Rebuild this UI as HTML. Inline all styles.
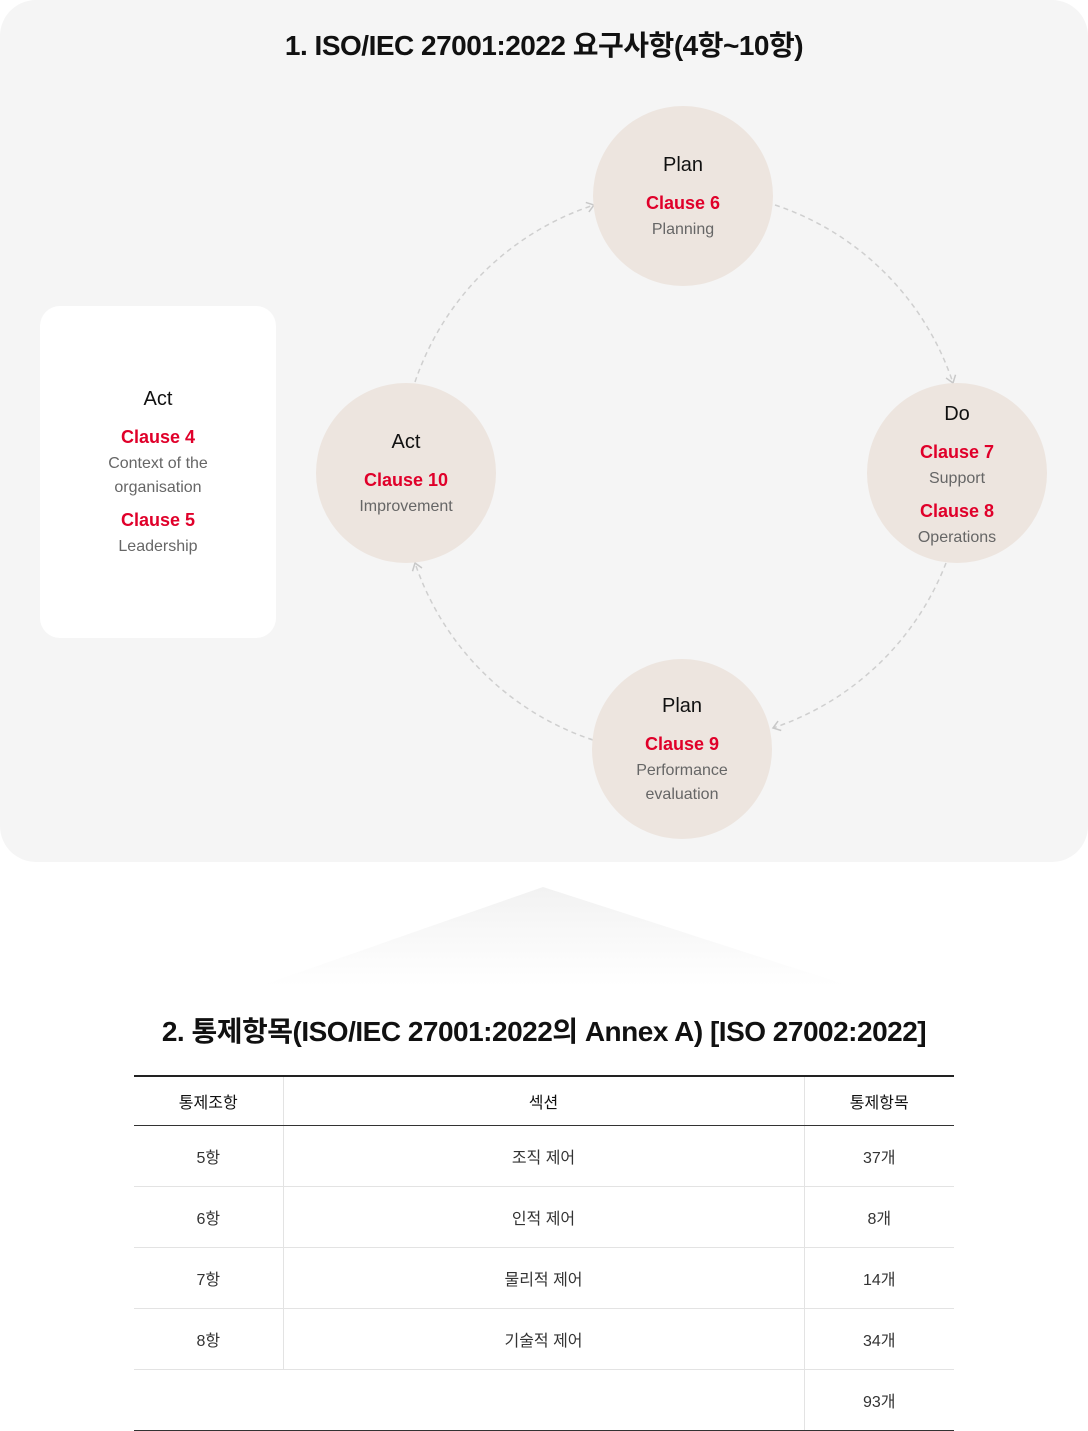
<!DOCTYPE html>
<html><head><meta charset="utf-8"><style>
*{margin:0;padding:0;box-sizing:border-box}
body{width:1088px;height:1431px;background:#fff;font-family:"Liberation Sans","Noto Sans CJK KR",sans-serif;position:relative;overflow:hidden}
.panel{position:absolute;left:0;top:0;width:1088px;height:862px;background:#f5f5f5;border-radius:36px}
h1,h2{position:absolute;left:0;width:1088px;text-align:center;font-weight:bold;color:#111;letter-spacing:-0.5px}
h1{top:24px;font-size:28px}
h2{top:1010px;font-size:28px}
.c{position:absolute;width:180px;height:180px;border-radius:50%;background:#ede5df;text-align:center}
.t{font-size:20px;color:#111;font-weight:500}
.r{font-size:18px;color:#e0002a;font-weight:bold;margin-top:16px}
.g{font-size:16px;color:#666;line-height:24px;margin-top:4px}
.r2{margin-top:10px}
.box{position:absolute;left:40px;top:306px;width:236px;height:332px;background:#fff;border-radius:20px;text-align:center}
table{position:absolute;left:134px;top:1075px;width:820px;border-collapse:collapse;font-size:16px;color:#333}
td{text-align:center;border-bottom:1px solid #e3e3e3;height:61px}
tr.h td{height:49px;border-bottom:1px solid #333;color:#111}
table{border-top:2px solid #222}
tr:last-child td{border-bottom:1px solid #333}
td.l{border-right:1px solid #e3e3e3}
</style></head><body>
<div class="panel"></div>
<h1>1. ISO/IEC 27001:2022 요구사항(4항~10항)</h1>
<svg style="position:absolute;left:0;top:0" width="1088" height="862">
<defs><marker id="a" markerWidth="12" markerHeight="12" refX="9" refY="6" orient="auto" markerUnits="userSpaceOnUse"><path d="M2,1 L9,6 L2,11" fill="none" stroke="#c8c8c8" stroke-width="1.5"/></marker></defs>
<g fill="none" stroke="#cfcfcf" stroke-width="1.5" stroke-dasharray="5,4">
<path d="M415,382 A281,281 0 0 1 594,205" marker-end="url(#a)"/>
<path d="M775,205 A281,281 0 0 1 953,383" marker-end="url(#a)"/>
<path d="M946,563 A281,281 0 0 1 773,728" marker-end="url(#a)"/>
<path d="M593,740 A281,281 0 0 1 415,563" marker-end="url(#a)"/>
</g></svg>
<div class="c" style="left:593px;top:106px"><div class="t" style="margin-top:48px">Plan</div><div class="r">Clause 6</div><div class="g">Planning</div></div>
<div class="c" style="left:316px;top:383px"><div class="t" style="margin-top:48px">Act</div><div class="r">Clause 10</div><div class="g">Improvement</div></div>
<div class="c" style="left:867px;top:383px"><div class="t" style="margin-top:20px">Do</div><div class="r">Clause 7</div><div class="g">Support</div><div class="r r2">Clause 8</div><div class="g">Operations</div></div>
<div class="c" style="left:592px;top:659px"><div class="t" style="margin-top:36px">Plan</div><div class="r">Clause 9</div><div class="g">Performance<br>evaluation</div></div>
<div class="box"><div class="t" style="margin-top:82px">Act</div><div class="r">Clause 4</div><div class="g">Context of the<br>organisation</div><div class="r r2">Clause 5</div><div class="g">Leadership</div></div>
<svg style="position:absolute;left:260px;top:886px" width="590" height="100"><defs><linearGradient id="f" x1="0" y1="0" x2="0" y2="1"><stop offset="0" stop-color="#f2f2f2"/><stop offset="1" stop-color="#fff"/></linearGradient></defs><polygon points="283,1 590,100 0,100" fill="url(#f)"/></svg>
<h2>2. 통제항목(ISO/IEC 27001:2022의 Annex A) [ISO 27002:2022]</h2>
<table>
<tr class="h"><td class="l" style="width:149px">통제조항</td><td class="l" style="width:521px">섹션</td><td>통제항목</td></tr>
<tr><td class="l">5항</td><td class="l">조직 제어</td><td>37개</td></tr>
<tr><td class="l">6항</td><td class="l">인적 제어</td><td>8개</td></tr>
<tr><td class="l">7항</td><td class="l">물리적 제어</td><td>14개</td></tr>
<tr><td class="l">8항</td><td class="l">기술적 제어</td><td>34개</td></tr>
<tr><td></td><td class="l"></td><td>93개</td></tr>
</table>
</body></html>
